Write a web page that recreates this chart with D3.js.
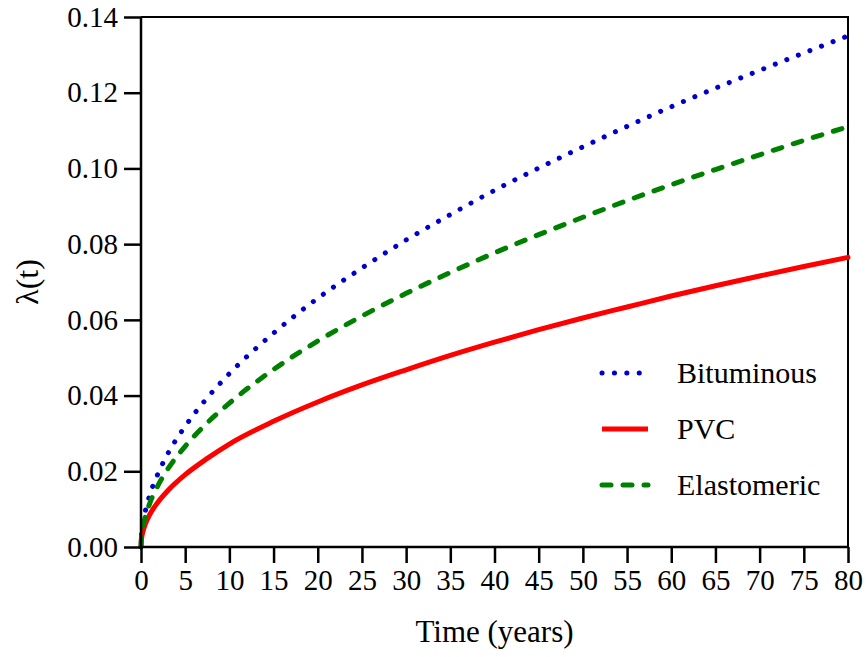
<!DOCTYPE html>
<html><head><meta charset="utf-8"><script src="https://cdn.jsdelivr.net/npm/d3@7"></script></head>
<body style="margin:0"><div id="chart"></div>
<script>
// values
let years = [0, 0.05, 0.25, 0.5, 1, 2, 3, 5, 7.5, 10, 15, 20, 25, 30, 35, 40, 45, 50, 55, 60, 65, 70, 75, 80];
let bituminous = [0, 0.0029, 0.0067, 0.0096, 0.0138, 0.0198, 0.0245, 0.0319, 0.0394, 0.0458, 0.0565, 0.0657, 0.0737, 0.0811, 0.0878, 0.0942, 0.1001, 0.1057, 0.1111, 0.1163, 0.1212, 0.1259, 0.1305, 0.1350];
let pvc = [0, 0.0019, 0.0043, 0.0061, 0.0086, 0.0121, 0.0148, 0.0191, 0.0234, 0.0272, 0.0332, 0.0383, 0.0428, 0.0468, 0.0506, 0.0541, 0.0574, 0.0605, 0.0634, 0.0663, 0.0690, 0.0716, 0.0741, 0.0765];
let elastomeric = [0, 0.0025, 0.0057, 0.0081, 0.0116, 0.0166, 0.0205, 0.0266, 0.0328, 0.0380, 0.0469, 0.0544, 0.0610, 0.0670, 0.0725, 0.0777, 0.0825, 0.0871, 0.0915, 0.0957, 0.0997, 0.1036, 0.1074, 0.1110];
let xTicks = d3.range(0, 81, 5);
let yTicks = [0, 0.02, 0.04, 0.06, 0.08, 0.10, 0.12, 0.14];

let series = [
  {name: "Bituminous", values: bituminous, color: "#0000cd", dash: "0.1 12.3", width: 5},
  {name: "PVC", values: pvc, color: "#ff0000", dash: null, width: 5},
  {name: "Elastomeric", values: elastomeric, color: "#008000", dash: "9 12", width: 5}
];

let font = "Liberation Serif, Tinos, serif";
let width = 866, height = 657;
let margin = {left: 141, right: 18, top: 17, bottom: 110};

let svg = d3.select("#chart").append("svg")
  .attr("width", width)
  .attr("height", height)
  .style("font-family", font);

let x = d3.scaleLinear().domain([0, 80]).range([margin.left, width - margin.right]);
let y = d3.scaleLinear().domain([0, 0.14]).range([height - margin.bottom, margin.top]);

// frame top and right
svg.append("path")
  .attr("d", `M${x(0)},${y(0.14)}H${x(80)}V${y(0)}`)
  .attr("fill", "none")
  .attr("stroke", "#000")
  .attr("stroke-width", 2);

let line = d3.line()
  .x((d, i) => x(years[i]))
  .y(d => y(d))
  .curve(d3.curveMonotoneX);

svg.selectAll(".series")
  .data(series)
  .enter().append("path")
  .attr("class", "series")
  .attr("d", d => line(d.values))
  .attr("fill", "none")
  .attr("stroke", d => d.color)
  .attr("stroke-width", d => d.width)
  .attr("stroke-linecap", "round")
  .attr("stroke-dasharray", d => d.dash);

// axes
let xAxis = svg.append("g")
  .attr("transform", `translate(0,${y(0)})`)
  .call(d3.axisBottom(x).tickValues(xTicks).tickSize(16).tickPadding(6).tickFormat(d3.format("d")));
let yAxis = svg.append("g")
  .attr("transform", `translate(${x(0)},0)`)
  .call(d3.axisLeft(y).tickValues(yTicks).tickSize(17).tickPadding(6).tickFormat(d3.format(".2f")));

xAxis.attr("font-family", "serif");
yAxis.attr("font-family", "serif");
xAxis.select(".domain").attr("stroke-width", 2.5).attr("d", `M${x(0)},0H${x(80)}`);
yAxis.select(".domain").attr("stroke-width", 2.5).attr("d", `M0,${y(0)}V${y(0.14)}`);
svg.selectAll(".tick line").attr("stroke-width", 2.5);
svg.selectAll(".tick text")
  .attr("font-family", "serif")
  .style("font-family", font)
  .style("font-size", "29px")
  .attr("fill", "#000");

// axis titles
svg.append("text")
  .attr("x", (x(0) + x(80)) / 2)
  .attr("y", 642)
  .attr("text-anchor", "middle")
  .attr("font-family", "serif")
  .style("font-family", font)
  .style("font-size", "31px")
  .text("Time (years)");

svg.append("text")
  .attr("transform", `translate(38,${(y(0) + y(0.14)) / 2}) rotate(-90)`)
  .attr("text-anchor", "middle")
  .attr("font-family", "serif")
  .style("font-family", font)
  .style("font-size", "32px")
  .text("λ(t)");

// legend
let legendY = [373, 429, 485];
series.forEach((s, i) => {
  svg.append("line")
    .attr("x1", 602).attr("x2", 648)
    .attr("y1", legendY[i]).attr("y2", legendY[i])
    .attr("stroke", s.color)
    .attr("stroke-width", s.width)
    .attr("stroke-linecap", s.dash ? "round" : "butt")
    .attr("stroke-dasharray", s.dash);
  svg.append("text")
    .attr("x", 677)
    .attr("y", legendY[i] + 10)
    .attr("font-family", "serif")
    .style("font-family", font)
    .style("font-size", "30px")
    .text(s.name);
});
</script>
</body>
</html>
